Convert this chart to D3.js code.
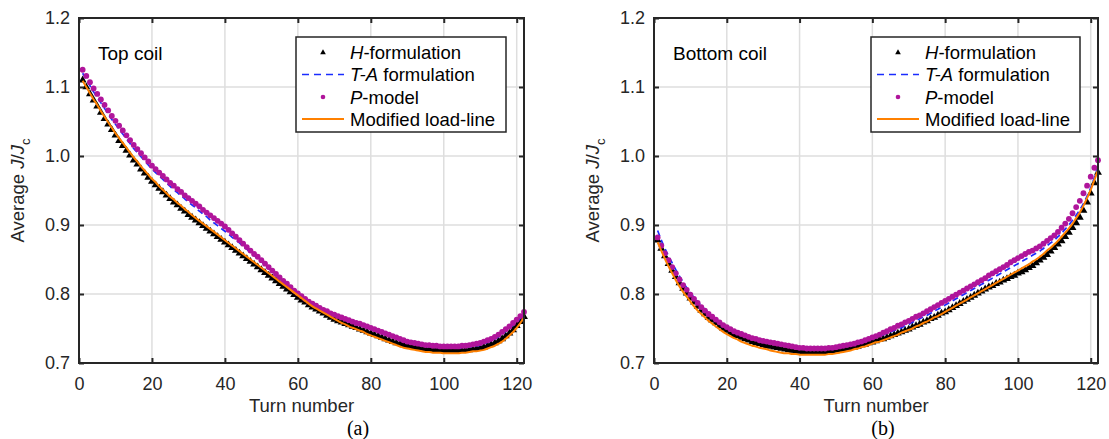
<!DOCTYPE html>
<html><head><meta charset="utf-8">
<script src="https://cdn.jsdelivr.net/npm/d3@7"></script>
<style>body{margin:0;background:#fff}svg{display:block}</style>
</head><body>
<svg id="chart" width="1109" height="439"></svg>
<script>
// ---------- data ----------
const xTicks = [0, 20, 40, 60, 80, 100, 120];
const yTicks = [0.7, 0.8, 0.9, 1.0, 1.1, 1.2];
const seriesNames = ["H-formulation", "T-A formulation", "P-model", "Modified load-line"];
const panelTitles = ["Top coil", "Bottom coil"];
const panelTags = ["(a)", "(b)"];

// Top coil
const topH = [
1.110,1.100,1.090,1.081,1.072,1.063,1.054,1.046,1.038,1.030,
1.022,1.015,1.008,1.001,0.994,0.988,0.981,0.975,0.969,0.963,
0.958,0.953,0.948,0.943,0.938,0.933,0.929,0.924,0.920,0.915,
0.911,0.907,0.903,0.899,0.895,0.891,0.887,0.883,0.879,0.875,
0.871,0.867,0.863,0.859,0.855,0.851,0.847,0.843,0.839,0.835,
0.831,0.827,0.823,0.819,0.815,0.811,0.807,0.803,0.799,0.795,
0.791,0.788,0.784,0.781,0.778,0.775,0.772,0.769,0.766,0.763,
0.761,0.759,0.757,0.755,0.753,0.751,0.749,0.747,0.745,0.743,
0.741,0.739,0.737,0.735,0.733,0.731,0.729,0.728,0.726,0.725,
0.724,0.723,0.722,0.721,0.720,0.720,0.719,0.719,0.719,0.718,
0.718,0.718,0.718,0.718,0.718,0.719,0.719,0.720,0.721,0.722,
0.723,0.725,0.727,0.729,0.732,0.735,0.739,0.743,0.748,0.754,
0.760,0.767];
const topTA = [
1.120,1.111,1.102,1.093,1.085,1.077,1.069,1.061,1.053,1.046,
1.039,1.032,1.025,1.018,1.011,1.005,0.999,0.993,0.987,0.981,
0.976,0.971,0.966,0.961,0.956,0.951,0.947,0.942,0.938,0.933,
0.929,0.925,0.920,0.916,0.912,0.907,0.903,0.899,0.895,0.891,
0.887,0.882,0.878,0.874,0.869,0.865,0.860,0.856,0.851,0.847,
0.842,0.837,0.833,0.828,0.823,0.818,0.814,0.809,0.804,0.800,
0.796,0.792,0.788,0.785,0.782,0.779,0.776,0.774,0.771,0.769,
0.767,0.765,0.763,0.761,0.759,0.757,0.755,0.753,0.751,0.749,
0.747,0.745,0.743,0.741,0.739,0.737,0.735,0.733,0.731,0.729,
0.728,0.727,0.726,0.725,0.724,0.724,0.723,0.723,0.722,0.722,
0.722,0.722,0.722,0.722,0.722,0.723,0.723,0.724,0.725,0.726,
0.728,0.730,0.732,0.735,0.738,0.742,0.746,0.750,0.755,0.760,
0.765,0.771];
const topP = [
1.125,1.116,1.107,1.098,1.090,1.082,1.074,1.066,1.058,1.051,
1.044,1.037,1.030,1.023,1.016,1.010,1.004,0.998,0.992,0.986,
0.981,0.976,0.971,0.966,0.961,0.957,0.952,0.948,0.943,0.939,
0.935,0.931,0.927,0.922,0.918,0.914,0.910,0.906,0.902,0.898,
0.893,0.888,0.883,0.878,0.873,0.868,0.863,0.858,0.854,0.849,
0.844,0.839,0.834,0.829,0.824,0.819,0.815,0.810,0.805,0.801,
0.797,0.793,0.789,0.786,0.783,0.780,0.777,0.775,0.772,0.770,
0.768,0.766,0.764,0.762,0.760,0.758,0.757,0.755,0.753,0.751,
0.749,0.747,0.745,0.743,0.741,0.739,0.737,0.735,0.733,0.731,
0.730,0.729,0.728,0.727,0.726,0.726,0.725,0.725,0.724,0.724,
0.724,0.724,0.724,0.724,0.725,0.725,0.726,0.727,0.728,0.729,
0.731,0.733,0.735,0.738,0.741,0.745,0.749,0.753,0.758,0.763,
0.768,0.774];
const topML = [
1.109,1.100,1.091,1.082,1.074,1.065,1.057,1.049,1.041,1.033,
1.026,1.019,1.012,1.005,0.998,0.992,0.985,0.979,0.973,0.967,
0.962,0.956,0.951,0.946,0.941,0.937,0.932,0.928,0.923,0.919,
0.914,0.910,0.906,0.902,0.898,0.894,0.890,0.886,0.882,0.878,
0.874,0.870,0.866,0.862,0.858,0.854,0.850,0.846,0.842,0.838,
0.834,0.830,0.826,0.822,0.818,0.814,0.810,0.806,0.802,0.798,
0.794,0.790,0.786,0.782,0.779,0.776,0.773,0.770,0.767,0.764,
0.761,0.758,0.756,0.753,0.751,0.749,0.747,0.745,0.742,0.740,
0.738,0.736,0.734,0.732,0.730,0.728,0.726,0.724,0.722,0.721,
0.720,0.719,0.718,0.717,0.716,0.716,0.715,0.715,0.715,0.714,
0.714,0.714,0.714,0.714,0.715,0.715,0.716,0.717,0.717,0.718,
0.719,0.721,0.723,0.725,0.728,0.731,0.735,0.740,0.745,0.751,
0.758,0.766];

// Bottom coil
const botH = [
0.878,0.866,0.855,0.844,0.834,0.825,0.816,0.808,0.801,0.794,
0.788,0.782,0.776,0.771,0.766,0.762,0.758,0.754,0.750,0.747,
0.744,0.741,0.739,0.737,0.735,0.733,0.731,0.729,0.728,0.726,
0.725,0.724,0.723,0.722,0.721,0.720,0.719,0.718,0.717,0.717,
0.716,0.716,0.716,0.716,0.716,0.716,0.716,0.717,0.717,0.718,
0.719,0.720,0.721,0.722,0.723,0.724,0.726,0.727,0.729,0.730,
0.732,0.734,0.735,0.737,0.739,0.741,0.743,0.745,0.747,0.749,
0.752,0.754,0.756,0.759,0.761,0.764,0.766,0.769,0.772,0.774,
0.777,0.780,0.783,0.786,0.789,0.792,0.795,0.798,0.801,0.804,
0.807,0.810,0.812,0.815,0.817,0.820,0.822,0.825,0.827,0.830,
0.832,0.835,0.838,0.841,0.845,0.849,0.853,0.857,0.862,0.867,
0.872,0.877,0.883,0.889,0.896,0.903,0.911,0.921,0.933,0.946,
0.961,0.976];
const botTA = [
0.892,0.878,0.866,0.855,0.845,0.835,0.826,0.817,0.809,0.802,
0.795,0.789,0.783,0.778,0.773,0.768,0.764,0.760,0.756,0.753,
0.750,0.747,0.745,0.742,0.740,0.738,0.737,0.735,0.734,0.732,
0.731,0.730,0.729,0.728,0.727,0.726,0.725,0.724,0.723,0.723,
0.722,0.722,0.722,0.722,0.722,0.722,0.722,0.722,0.723,0.723,
0.724,0.725,0.726,0.727,0.728,0.729,0.731,0.732,0.734,0.735,
0.737,0.739,0.741,0.743,0.745,0.747,0.749,0.751,0.754,0.756,
0.759,0.761,0.764,0.767,0.769,0.772,0.775,0.778,0.781,0.784,
0.787,0.790,0.793,0.796,0.799,0.802,0.805,0.808,0.811,0.814,
0.817,0.820,0.823,0.826,0.829,0.832,0.835,0.838,0.841,0.844,
0.847,0.850,0.853,0.856,0.859,0.862,0.866,0.870,0.874,0.878,
0.883,0.888,0.894,0.900,0.907,0.914,0.922,0.931,0.942,0.954,
0.969,0.987];
const botP = [
0.882,0.870,0.859,0.849,0.839,0.830,0.821,0.813,0.806,0.799,
0.793,0.787,0.781,0.776,0.771,0.767,0.763,0.759,0.755,0.752,
0.749,0.746,0.744,0.742,0.740,0.738,0.736,0.735,0.733,0.732,
0.731,0.730,0.729,0.728,0.727,0.726,0.725,0.724,0.723,0.722,
0.722,0.721,0.721,0.721,0.721,0.721,0.721,0.722,0.722,0.723,
0.724,0.725,0.726,0.727,0.728,0.730,0.731,0.733,0.735,0.737,
0.739,0.741,0.744,0.746,0.749,0.751,0.754,0.756,0.759,0.761,
0.764,0.767,0.769,0.772,0.775,0.778,0.781,0.784,0.787,0.790,
0.793,0.796,0.799,0.802,0.805,0.808,0.811,0.814,0.817,0.820,
0.823,0.827,0.830,0.833,0.836,0.839,0.842,0.846,0.849,0.852,
0.855,0.858,0.861,0.863,0.866,0.869,0.873,0.877,0.881,0.885,
0.890,0.896,0.902,0.909,0.917,0.926,0.935,0.946,0.957,0.970,
0.983,0.994];
const botML = [
0.875,0.863,0.851,0.840,0.830,0.820,0.811,0.803,0.796,0.789,
0.782,0.776,0.771,0.766,0.761,0.757,0.753,0.749,0.745,0.742,
0.739,0.736,0.734,0.731,0.729,0.727,0.725,0.724,0.722,0.721,
0.720,0.718,0.717,0.716,0.715,0.714,0.714,0.713,0.713,0.712,
0.712,0.712,0.712,0.712,0.712,0.712,0.712,0.713,0.713,0.714,
0.715,0.716,0.717,0.718,0.720,0.721,0.723,0.724,0.726,0.728,
0.730,0.731,0.733,0.735,0.737,0.739,0.741,0.744,0.746,0.748,
0.750,0.753,0.755,0.758,0.760,0.763,0.766,0.768,0.771,0.774,
0.777,0.780,0.783,0.786,0.789,0.792,0.795,0.798,0.801,0.804,
0.807,0.810,0.813,0.816,0.819,0.822,0.825,0.828,0.831,0.834,
0.837,0.840,0.843,0.847,0.850,0.854,0.858,0.863,0.867,0.872,
0.877,0.883,0.889,0.895,0.902,0.910,0.918,0.928,0.939,0.951,
0.965,0.980];

// ---------- drawing ----------
const FONT = "'Liberation Sans', Arial, Helvetica, sans-serif";
const AX = "#262626";
const COL = {H: "#000000", TA: "#1a2cff", P: "#b0159b", ML: "#ff8000"};
const svg = d3.select("#chart");

const panels = [
  {H: topH, TA: topTA, P: topP, ML: topML, left: 79, right: 524, tagX: 358, title: panelTitles[0], tag: panelTags[0], legLeft: 296, legRight: 506},
  {H: botH, TA: botTA, P: botP, ML: botML, left: 654, right: 1098, tagX: 883, title: panelTitles[1], tag: panelTags[1], legLeft: 871, legRight: 1080}
];
const TOP = 18, BOTTOM = 363;

panels.forEach(pn => {
  const g = svg.append("g");
  const x = d3.scaleLinear().domain([0, 122]).range([pn.left, pn.right]);
  const y = d3.scaleLinear().domain([0.7, 1.2]).range([BOTTOM, TOP]);
  const turns = d3.range(1, pn.H.length + 1);

  // grid
  g.append("g").selectAll("line").data(xTicks.filter(t => t > 0)).join("line")
    .attr("x1", d => x(d)).attr("x2", d => x(d)).attr("y1", TOP).attr("y2", BOTTOM)
    .attr("stroke", "#dedede").attr("stroke-width", 1.5);
  g.append("g").selectAll("line").data(yTicks.filter(t => t > 0.7 && t < 1.2)).join("line")
    .attr("x1", pn.left).attr("x2", pn.right).attr("y1", d => y(d)).attr("y2", d => y(d))
    .attr("stroke", "#dedede").attr("stroke-width", 1.5);

  // H-formulation triangles
  const tri = d3.symbol().type(d3.symbolTriangle).size(27);
  g.append("g").selectAll("path").data(pn.H).join("path")
    .attr("d", tri)
    .attr("transform", (d, i) => `translate(${x(turns[i])},${y(d)})`)
    .attr("fill", COL.H);

  // T-A dashed line
  g.append("path").datum(pn.TA)
    .attr("d", d3.line().x((d, i) => x(turns[i])).y(d => y(d)).curve(d3.curveMonotoneX))
    .attr("fill", "none").attr("stroke", COL.TA).attr("stroke-width", 1.7)
    .attr("stroke-dasharray", "6,4");

  // P-model dots
  g.append("g").selectAll("circle").data(pn.P).join("circle")
    .attr("cx", (d, i) => x(turns[i])).attr("cy", d => y(d)).attr("r", 2.9)
    .attr("fill", COL.P);

  // Modified load-line
  g.append("path").datum(pn.ML)
    .attr("d", d3.line().x((d, i) => x(turns[i])).y(d => y(d)).curve(d3.curveMonotoneX))
    .attr("fill", "none").attr("stroke", COL.ML).attr("stroke-width", 2);

  // axes
  const fmt = d3.format(".1f");
  const xb = g.append("g").attr("transform", `translate(0,${BOTTOM})`)
    .call(d3.axisBottom(x).tickValues(xTicks).tickSize(-5).tickPadding(14));
  const yl = g.append("g").attr("transform", `translate(${pn.left},0)`)
    .call(d3.axisLeft(y).tickValues(yTicks).tickFormat(fmt).tickSize(-5).tickPadding(9));
  const xt = g.append("g").attr("transform", `translate(0,${TOP})`)
    .call(d3.axisTop(x).tickValues(xTicks).tickSize(-5).tickFormat(""));
  const yr = g.append("g").attr("transform", `translate(${pn.right},0)`)
    .call(d3.axisRight(y).tickValues(yTicks).tickSize(-5).tickFormat(""));
  [xb, yl, xt, yr].forEach(a => {
    a.select(".domain").remove();
    a.selectAll(".tick line").attr("stroke", AX).attr("stroke-width", 2);
    a.selectAll(".tick text").attr("fill", AX).style("font-family", FONT).style("font-size", "18px");
  });
  g.append("rect").attr("x", pn.left).attr("y", TOP)
    .attr("width", pn.right - pn.left).attr("height", BOTTOM - TOP)
    .attr("fill", "none").attr("stroke", AX).attr("stroke-width", 2);

  // axis labels
  g.append("text").attr("x", (pn.left + pn.right) / 2).attr("y", 412)
    .attr("text-anchor", "middle").attr("fill", AX)
    .style("font-family", FONT).style("font-size", "18.5px").text("Turn number");
  const yLab = g.append("text")
    .attr("transform", `translate(${pn.left - 55},${(TOP + BOTTOM) / 2}) rotate(-90)`)
    .attr("text-anchor", "middle").attr("fill", AX)
    .style("font-family", FONT).style("font-size", "18.5px");
  yLab.append("tspan").text("Average ");
  yLab.append("tspan").style("font-style", "italic").text("J");
  yLab.append("tspan").text("/");
  yLab.append("tspan").style("font-style", "italic").text("J");
  yLab.append("tspan").attr("dy", 6).style("font-size", "13px").text("c");

  // panel title
  g.append("text").attr("x", pn.left + 19).attr("y", 60).attr("fill", "#000")
    .style("font-family", FONT).style("font-size", "19px").text(pn.title);

  // tag
  g.append("text").attr("x", pn.tagX).attr("y", 435).attr("text-anchor", "middle")
    .attr("fill", "#000").style("font-family", "'Liberation Serif', 'Times New Roman', serif")
    .style("font-size", "20px").text(pn.tag);

  // legend
  const lg = g.append("g");
  lg.append("rect").attr("x", pn.legLeft).attr("y", 37)
    .attr("width", pn.legRight - pn.legLeft).attr("height", 95)
    .attr("fill", "#fff").attr("stroke", AX).attr("stroke-width", 1.5);
  const rowY = [52.5, 74.5, 97, 119];
  const symX = pn.legLeft + 27;
  lg.append("path").attr("d", d3.symbol().type(d3.symbolTriangle).size(14))
    .attr("transform", `translate(${symX},${rowY[0]})`).attr("fill", COL.H);
  lg.append("line").attr("x1", pn.legLeft + 6).attr("x2", pn.legLeft + 48)
    .attr("y1", rowY[1]).attr("y2", rowY[1]).attr("stroke", COL.TA)
    .attr("stroke-width", 1.6).attr("stroke-dasharray", "7,5");
  lg.append("circle").attr("cx", symX).attr("cy", rowY[2]).attr("r", 2.3).attr("fill", COL.P);
  lg.append("line").attr("x1", pn.legLeft + 6).attr("x2", pn.legLeft + 48)
    .attr("y1", rowY[3]).attr("y2", rowY[3]).attr("stroke", COL.ML).attr("stroke-width", 1.8);

  const labels = [["H", "-formulation"], ["T-A", " formulation"], ["P", "-model"], ["", seriesNames[3]]];
  labels.forEach((lb, i) => {
    const t = lg.append("text").attr("x", pn.legLeft + 54).attr("y", rowY[i] + 6.5)
      .attr("fill", "#000").style("font-family", FONT).style("font-size", "18.5px");
    if (lb[0]) t.append("tspan").style("font-style", "italic").text(lb[0]);
    t.append("tspan").text(lb[1]);
  });
});
</script>
</body></html>
